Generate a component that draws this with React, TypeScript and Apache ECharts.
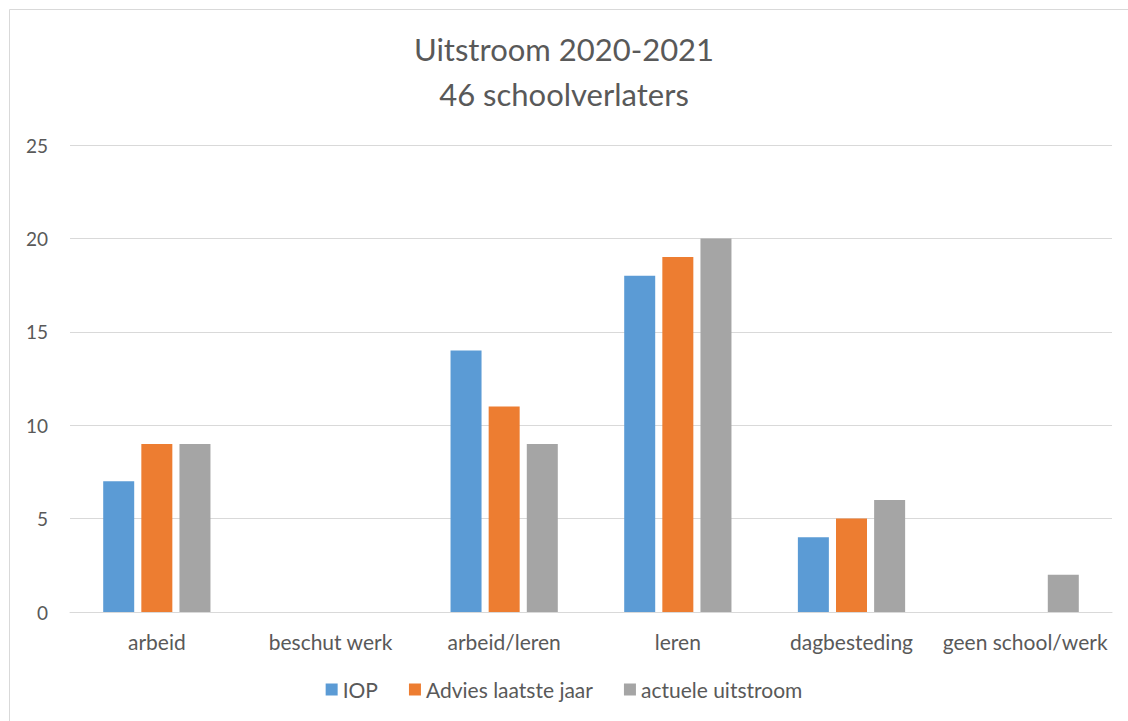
import React, { useEffect, useRef } from "react";
import * as echarts from "echarts";

const categories = ["arbeid", "beschut werk", "arbeid/leren", "leren", "dagbesteding", "geen school/werk"];
const iop = [7, 0, 14, 18, 4, 0];
const advies = [9, 0, 11, 19, 5, 0];
const actueel = [9, 0, 9, 20, 6, 2];
const seriesNames = ["IOP", "Advies laatste jaar", "actuele uitstroom"];
const colors = ["#5B9BD5", "#ED7D31", "#A5A5A5"];
const titleLines = ["Uitstroom 2020-2021", "46 schoolverlaters"];

const FONT = "Lato, 'Open Sans', sans-serif";

export default function App() {
  const ref = useRef<HTMLDivElement>(null);
  useEffect(() => {
    if (!ref.current) return;
    const chart = echarts.init(ref.current, undefined, { renderer: "svg" });
    const data = [iop, advies, actueel];
    chart.setOption({
      animation: false,
      backgroundColor: "#ffffff",
      title: {
        text: titleLines.join("\n"),
        left: "center",
        top: 21,
        textStyle: { fontFamily: FONT, fontSize: 31, fontWeight: "normal", color: "#595959", lineHeight: 45 },
      },
      graphic: [
        {
          type: "rect",
          shape: { x: 9.5, y: 9.5, width: 1140, height: 740 },
          style: { fill: "none", stroke: "#D9D9D9", lineWidth: 1 },
          silent: true,
        },
      ],
      legend: {
        bottom: 16,
        left: "center",
        itemWidth: 12,
        itemHeight: 12,
        itemGap: 31,
        icon: "rect",
        textStyle: { fontFamily: FONT, fontSize: 21, color: "#595959" },
        data: seriesNames,
      },
      grid: { left: 70, right: 16, top: 145, bottom: 109 },
      xAxis: {
        type: "category",
        data: categories,
        axisLine: { lineStyle: { color: "#D9D9D9" } },
        axisTick: { show: false },
        axisLabel: { fontFamily: FONT, fontSize: 21, color: "#595959", margin: 19, interval: 0 },
      },
      yAxis: {
        type: "value",
        min: 0,
        max: 25,
        interval: 5,
        axisLine: { show: false },
        axisTick: { show: false },
        splitLine: { lineStyle: { color: "#D9D9D9" } },
        axisLabel: { fontFamily: FONT, fontSize: 19, color: "#595959", margin: 22 },
      },
      series: seriesNames.map((name, i) => ({
        name,
        type: "bar",
        data: data[i],
        barWidth: 31,
        barGap: "23%",
        itemStyle: { color: colors[i] },
      })),
    });
    return () => chart.dispose();
  }, []);
  return (
    <div
      ref={ref}
      style={{ position: "absolute", left: 0, top: 0, width: 1128, height: 721 }}
    />
  );
}
